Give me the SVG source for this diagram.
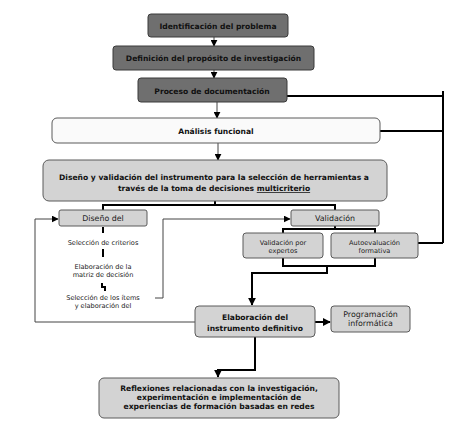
<svg xmlns="http://www.w3.org/2000/svg" width="463" height="432" viewBox="0 0 463 432">
<defs>
<style>
.dark{fill:#6f6f6f;stroke:#3a3a3a;stroke-width:1}
.light{fill:#d3d3d3;stroke:#5a5a5a;stroke-width:1}
.white{fill:#fafafa;stroke:#5a5a5a;stroke-width:1}
.tb{font-family:"DejaVu Sans",Verdana,sans-serif;font-weight:bold;font-size:7.6px;fill:#111;text-anchor:middle}
.tn{font-family:"DejaVu Sans",Verdana,sans-serif;font-size:7.9px;fill:#222;text-anchor:middle}
.ts{font-family:"DejaVu Sans",Verdana,sans-serif;font-size:6.6px;fill:#222;text-anchor:middle}
.thick{fill:none;stroke:#000;stroke-width:2}
.thin{fill:none;stroke:#444;stroke-width:1}
</style>
<marker id="ah" viewBox="0 0 10 10" refX="9" refY="5" markerWidth="4" markerHeight="4" orient="auto" markerUnits="strokeWidth"><path d="M0,0 L10,5 L0,10 z" fill="#000"/></marker>
<marker id="ahs" viewBox="0 0 10 10" refX="9" refY="5" markerWidth="7" markerHeight="7" orient="auto" markerUnits="strokeWidth"><path d="M0,0 L10,5 L0,10 z" fill="#000"/></marker>
</defs>
<rect width="463" height="432" fill="#fff"/>
<g id="connectors">
<path class="thin" d="M214,37 V46" marker-end="url(#ahs)"/>
<path class="thin" d="M214,70 V78" marker-end="url(#ahs)"/>
<path class="thin" d="M217,102 V118" marker-end="url(#ahs)"/>
<path class="thin" d="M218,143 V160" marker-end="url(#ahs)"/>
<path class="thick" d="M287,96 H443 M443,91 V243 M380,131 H443 M418,243 H443"/>
<path class="thick" d="M215,201 V205 M103,210 V205 H335 V210"/>
<path class="thick" d="M103,227 V233 M103,249 V257"/>
<path class="thick" d="M102,283 V287 H105 V291" stroke-width="1.6"/>
<path class="thin" d="M196,322 H35 V219 H58" marker-end="url(#ahs)"/>
<path class="thin" d="M155,298 H163 V219 H290" marker-end="url(#ahs)"/>
<path class="thick" d="M335,226 V229 M283,233 V229 H375 V233"/>
<path class="thick" d="M283,258 V266 H375 V258 M327,266 V273 H252 V305" marker-end="url(#ah)"/>
<path class="thick" d="M315,322 H330" marker-end="url(#ah)"/>
<path class="thick" d="M255,337 V370 H218 V377" marker-end="url(#ah)"/>
</g>
<g id="n1"><rect class="dark" x="148" y="14" width="140" height="23" rx="3"/><text class="tb" x="218" y="29">Identificación del problema</text></g>
<g id="n2"><rect class="dark" x="113" y="46" width="201" height="24" rx="3"/><text class="tb" x="213.5" y="61">Definición del propósito de investigación</text></g>
<g id="n3"><rect class="dark" x="138" y="78" width="149" height="24" rx="3"/><text class="tb" x="212" y="94">Proceso de documentación</text></g>
<g id="n4"><rect class="white" x="52" y="118" width="328" height="25" rx="5"/><text class="tb" x="216" y="134">Análisis funcional</text></g>
<g id="n5"><rect class="light" x="43" y="160" width="344" height="41" rx="6"/><text class="tb" x="214" y="180">Diseño y validación del instrumento para la selección de herramientas a</text><text class="tb" x="214" y="191">través de la toma de decisiones <tspan text-decoration="underline">multicriterio</tspan></text></g>
<g id="n6"><rect class="light" x="59" y="210" width="88" height="16" rx="2"/><text class="tn" x="103" y="221">Diseño del</text></g>
<g id="n7"><text class="ts" x="103" y="245">Selección de criterios</text></g>
<g id="n8"><text class="ts" x="103" y="269">Elaboración de la</text><text class="ts" x="103" y="277">matriz de decisión</text></g>
<g id="n9"><text class="ts" x="103" y="300">Selección de los ítems</text><text class="ts" x="103" y="308">y elaboración del</text></g>
<g id="n10"><rect class="light" x="291" y="210" width="88" height="16" rx="2"/><text class="tn" x="335" y="221">Validación</text></g>
<g id="n11"><rect class="light" x="243" y="233" width="80" height="25" rx="3"/><text class="ts" x="283" y="245">Validación por</text><text class="ts" x="283" y="253">expertos</text></g>
<g id="n12"><rect class="light" x="331" y="233" width="87" height="25" rx="3"/><text class="ts" x="374.5" y="245">Autoevaluación</text><text class="ts" x="374.5" y="253">formativa</text></g>
<g id="n13"><rect class="light" x="195" y="306" width="120" height="31" rx="4"/><text class="tb" x="255" y="320">Elaboración del</text><text class="tb" x="255" y="331">instrumento definitivo</text></g>
<g id="n14"><rect class="light" x="331" y="306" width="79" height="26" rx="3"/><text class="tn" x="370.5" y="317">Programación</text><text class="tn" x="370.5" y="326">informática</text></g>
<g id="n15"><rect class="light" x="99" y="378" width="240" height="40" rx="5"/><text class="tb" x="219" y="391">Reflexiones relacionadas con la investigación,</text><text class="tb" x="219" y="400">experimentación e implementación de</text><text class="tb" x="219" y="409">experiencias de formación basadas en redes</text></g>
</svg>
